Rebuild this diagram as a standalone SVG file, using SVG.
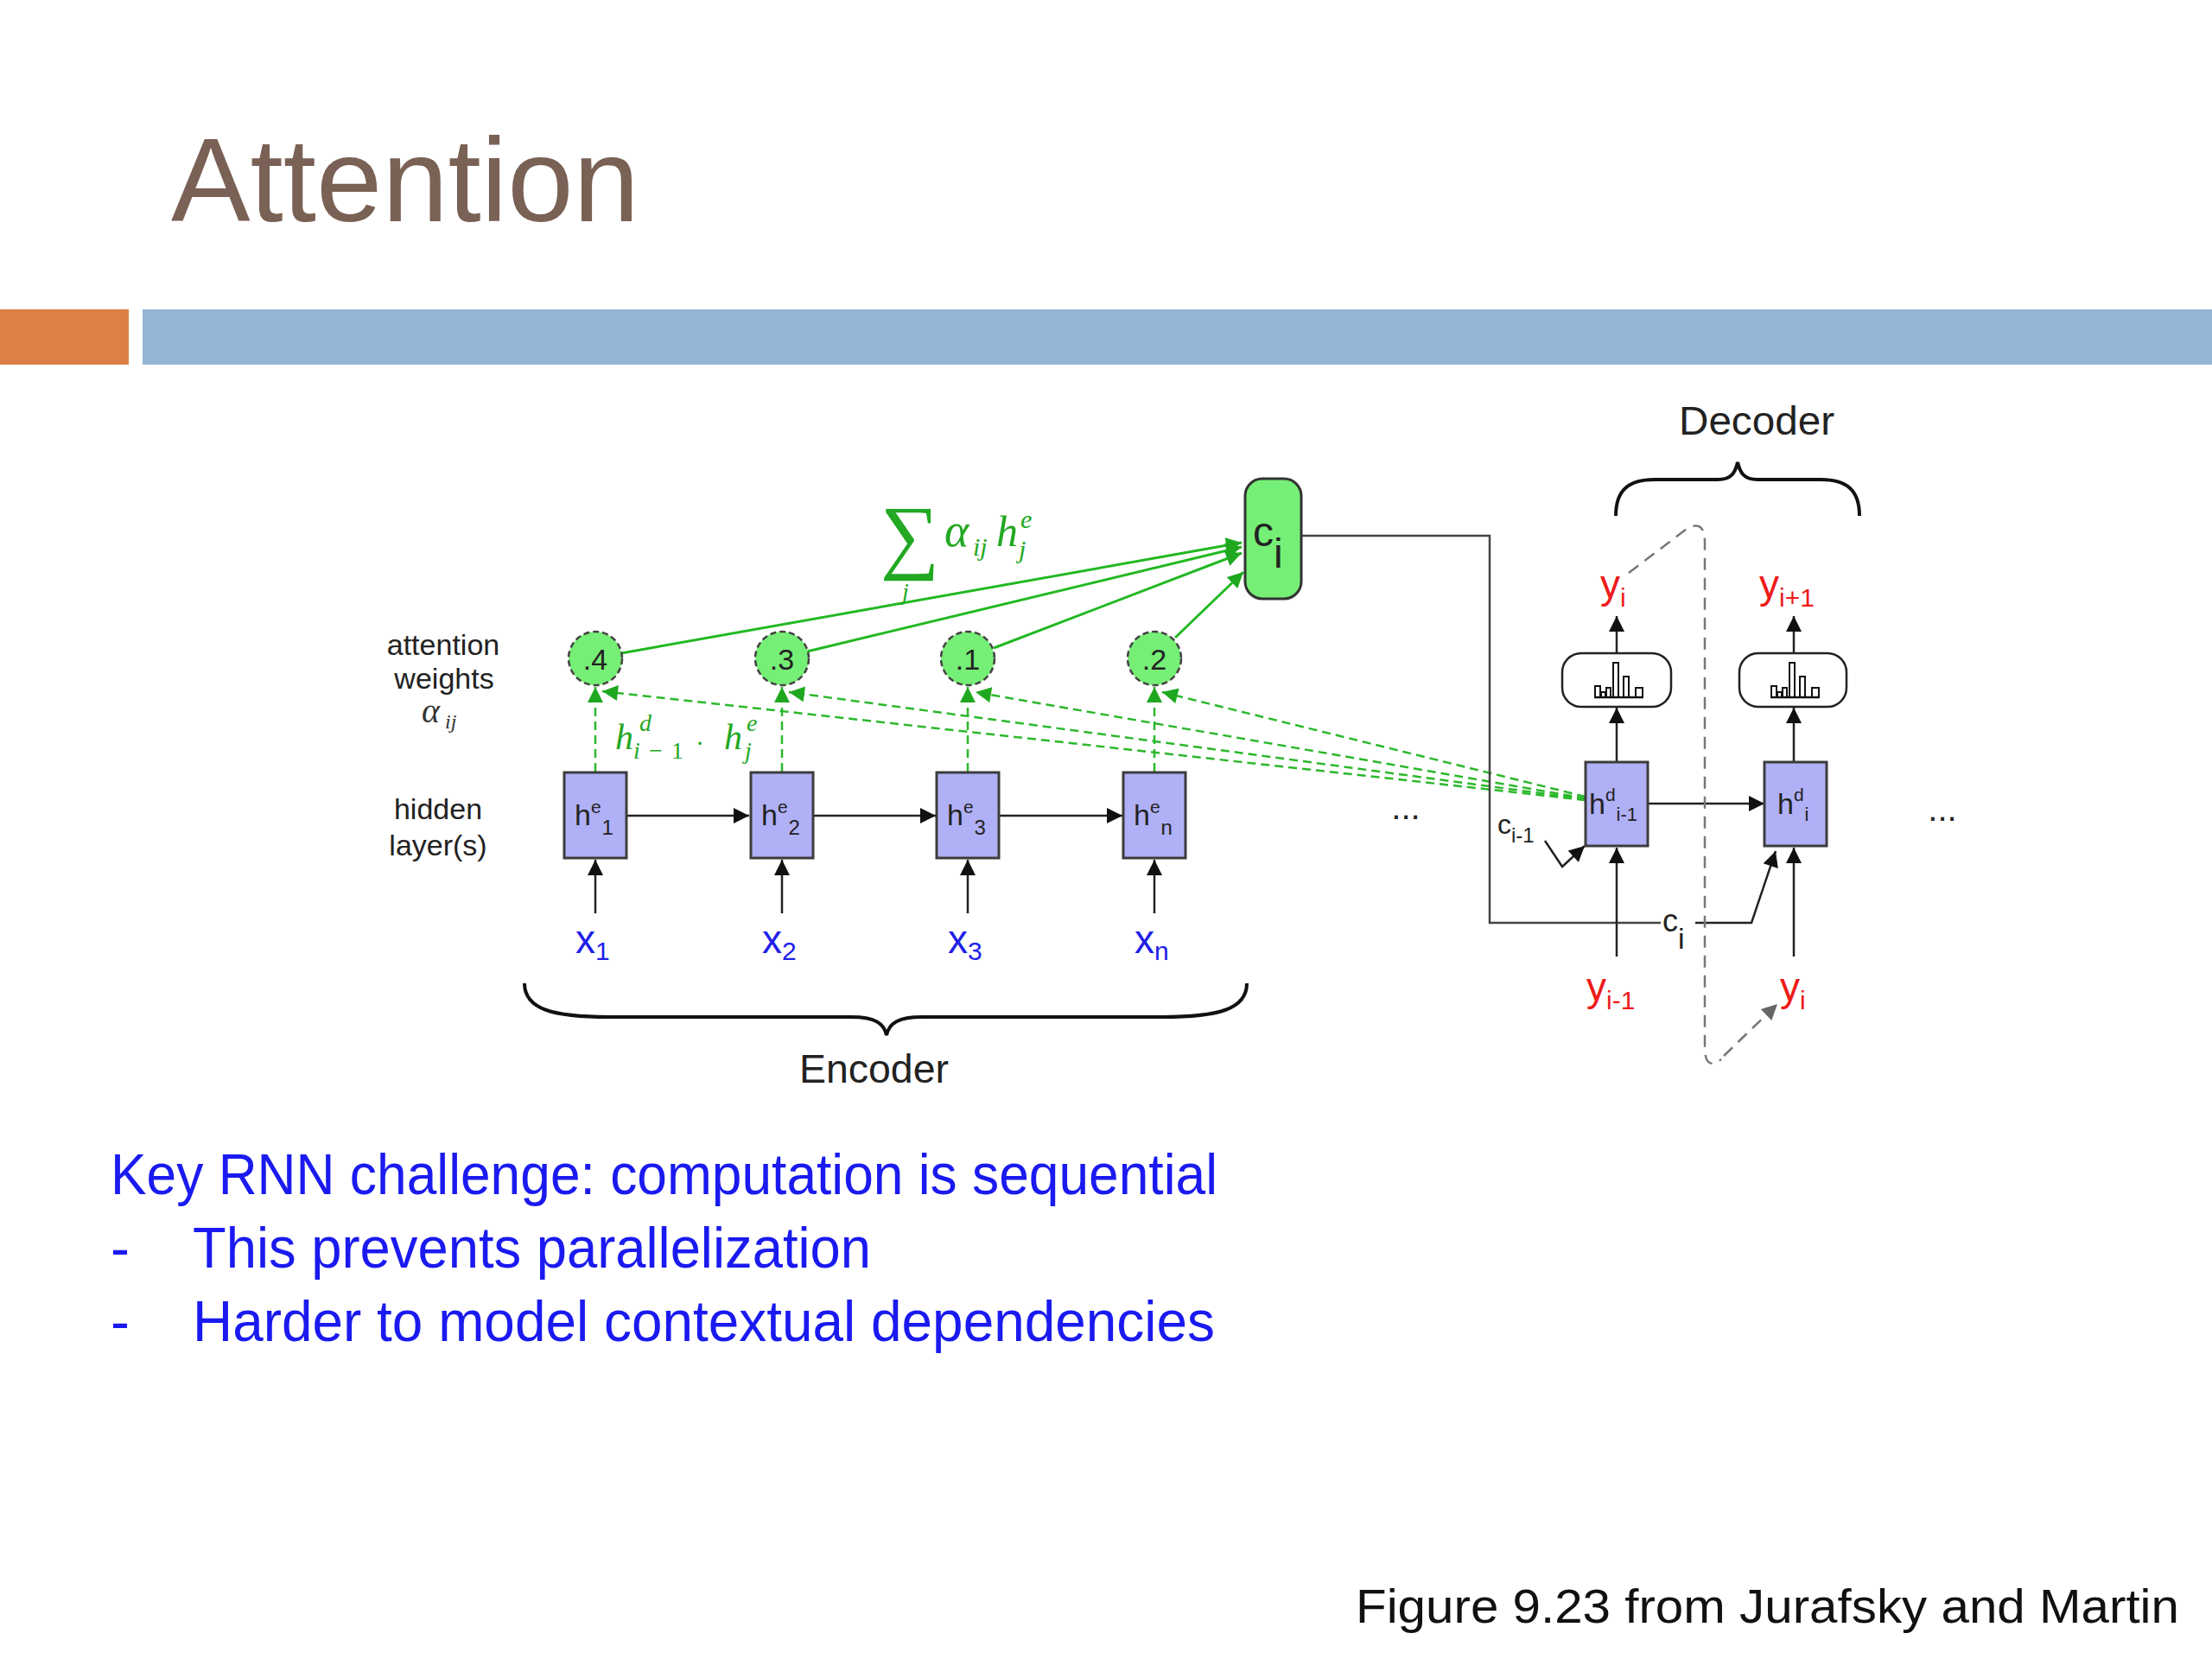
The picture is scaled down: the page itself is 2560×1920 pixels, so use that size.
<svg xmlns="http://www.w3.org/2000/svg" width="2560" height="1920" viewBox="0 0 2560 1920">
<style>
.lbl{font-family:"Liberation Sans",Arial,sans-serif;fill:#222}
.slide{font-family:"Liberation Sans",Arial,sans-serif}
.mi{font-family:"Liberation Serif","DejaVu Serif",serif;font-style:italic}
.grn{fill:#22a822}
.box{fill:#b0b0f6;stroke:#3c3c3c;stroke-width:3}
.circ{fill:#76ef76;stroke:#444;stroke-width:2.5;stroke-dasharray:7 4}
.blk{stroke:#222;stroke-width:2.5;fill:none}
.gl{stroke:#22b822;stroke-width:3;fill:none}
.gd{stroke:#2cb82c;stroke-width:2.5;fill:none;stroke-dasharray:10 6}
.gray{stroke:#777;stroke-width:2.5;fill:none;stroke-dasharray:14 9}
.bar{fill:#fff;stroke:#111;stroke-width:2}
</style>
<defs>
<marker id="ab" viewBox="0 0 10 10" refX="10" refY="5" markerWidth="22" markerHeight="18" markerUnits="userSpaceOnUse" orient="auto"><path d="M0,0 L10,5 L0,10 z" fill="#111"/></marker>
<marker id="ag" viewBox="0 0 10 10" refX="10" refY="5" markerWidth="22" markerHeight="18" markerUnits="userSpaceOnUse" orient="auto"><path d="M0,0 L10,5 L0,10 z" fill="#1fa81f"/></marker>
<marker id="agr" viewBox="0 0 10 10" refX="10" refY="5" markerWidth="22" markerHeight="18" markerUnits="userSpaceOnUse" orient="auto"><path d="M0,0 L10,5 L0,10 z" fill="#666"/></marker>
<g id="hist">
<rect class="bar" x="-25" y="-13" width="6" height="13"/>
<rect class="bar" x="-18" y="-6" width="5" height="6"/>
<rect class="bar" x="-12" y="-11" width="5" height="11"/>
<rect class="bar" x="-4" y="-40" width="6" height="40"/>
<rect class="bar" x="8" y="-24" width="6" height="24"/>
<rect class="bar" x="22" y="-11" width="8" height="11"/>
<line x1="-26" y1="0" x2="31" y2="0" stroke="#111" stroke-width="2.5"/>
</g>
</defs>
<rect width="2560" height="1920" fill="#fff"/>

<g id="header">
<text class="slide" x="198" y="256" font-size="138" fill="#7a6155" textLength="542" lengthAdjust="spacingAndGlyphs">Attention</text>
<rect x="0" y="358" width="149" height="64" fill="#dd8047"/>
<rect x="165" y="358" width="2395" height="64" fill="#94b5d3"/>
</g>

<g id="connectors">
<line class="blk" x1="725" y1="944" x2="867" y2="944" marker-end="url(#ab)"/>
<line class="blk" x1="941" y1="944" x2="1083" y2="944" marker-end="url(#ab)"/>
<line class="blk" x1="1156" y1="944" x2="1299" y2="944" marker-end="url(#ab)"/>
<line class="blk" x1="689" y1="1057" x2="689" y2="995" marker-end="url(#ab)"/>
<line class="blk" x1="905" y1="1057" x2="905" y2="995" marker-end="url(#ab)"/>
<line class="blk" x1="1120" y1="1057" x2="1120" y2="995" marker-end="url(#ab)"/>
<line class="blk" x1="1336" y1="1057" x2="1336" y2="995" marker-end="url(#ab)"/>
<line class="gd" x1="689" y1="893" x2="689" y2="795" marker-end="url(#ag)"/>
<line class="gd" x1="905" y1="893" x2="905" y2="795" marker-end="url(#ag)"/>
<line class="gd" x1="1120" y1="893" x2="1120" y2="795" marker-end="url(#ag)"/>
<line class="gd" x1="1336" y1="893" x2="1336" y2="795" marker-end="url(#ag)"/>
<line class="gd" x1="1835" y1="926" x2="697" y2="800" marker-end="url(#ag)"/>
<line class="gd" x1="1835" y1="925" x2="913" y2="801" marker-end="url(#ag)"/>
<line class="gd" x1="1835" y1="924" x2="1129" y2="801" marker-end="url(#ag)"/>
<line class="gd" x1="1835" y1="922" x2="1345" y2="801" marker-end="url(#ag)"/>
<line class="gl" x1="719" y1="756" x2="1437" y2="628" marker-end="url(#ag)"/>
<line class="gl" x1="934" y1="754" x2="1437" y2="633" marker-end="url(#ag)"/>
<line class="gl" x1="1150" y1="750" x2="1437" y2="640" marker-end="url(#ag)"/>
<line class="gl" x1="1360" y1="738" x2="1439" y2="662" marker-end="url(#ag)"/>
<path d="M1506 620 L1724 620 L1724 1068 L1922 1068" stroke="#444" stroke-width="2.5" fill="none"/>
<path d="M1962 1068 L2027 1068 L2055 985" class="blk" marker-end="url(#ab)"/>
<path d="M1788 973 L1808 1003 L1834 979" class="blk" marker-end="url(#ab)"/>
<line class="blk" x1="1907" y1="930" x2="2042" y2="930" marker-end="url(#ab)"/>
<line class="blk" x1="1871" y1="1107" x2="1871" y2="981" marker-end="url(#ab)"/>
<line class="blk" x1="2076" y1="1107" x2="2076" y2="981" marker-end="url(#ab)"/>
<line class="blk" x1="1871" y1="882" x2="1871" y2="819" marker-end="url(#ab)"/>
<line class="blk" x1="2076" y1="882" x2="2076" y2="819" marker-end="url(#ab)"/>
<line class="blk" x1="1871" y1="755" x2="1871" y2="713" marker-end="url(#ab)"/>
<line class="blk" x1="2076" y1="755" x2="2076" y2="713" marker-end="url(#ab)"/>
<path class="gray" d="M1885 663 L1952 612 Q1973 600 1973 628 L1973 1212 Q1973 1240 1992 1226"/>
<line class="gray" x1="1995" y1="1222" x2="2057" y2="1162" marker-end="url(#agr)"/>
</g>

<g id="encoder-boxes">
<g id="he1"><rect class="box" x="653" y="894" width="72" height="99"/><text class="lbl" x="665" y="955" font-size="34">h<tspan font-size="21" dy="-14">e</tspan><tspan font-size="24" dy="25" dx="1">1</tspan></text></g>
<g id="he2"><rect class="box" x="869" y="894" width="72" height="99"/><text class="lbl" x="881" y="955" font-size="34">h<tspan font-size="21" dy="-14">e</tspan><tspan font-size="24" dy="25" dx="1">2</tspan></text></g>
<g id="he3"><rect class="box" x="1084" y="894" width="72" height="99"/><text class="lbl" x="1096" y="955" font-size="34">h<tspan font-size="21" dy="-14">e</tspan><tspan font-size="24" dy="25" dx="1">3</tspan></text></g>
<g id="hen"><rect class="box" x="1300" y="894" width="72" height="99"/><text class="lbl" x="1312" y="955" font-size="34">h<tspan font-size="21" dy="-14">e</tspan><tspan font-size="24" dy="25" dx="1">n</tspan></text></g>
</g>

<g id="weights">
<g id="w1"><circle class="circ" cx="689" cy="762" r="31"/><text class="lbl" x="689" y="775" font-size="34" text-anchor="middle">.4</text></g>
<g id="w2"><circle class="circ" cx="905" cy="762" r="31"/><text class="lbl" x="905" y="775" font-size="34" text-anchor="middle">.3</text></g>
<g id="w3"><circle class="circ" cx="1120" cy="762" r="31"/><text class="lbl" x="1120" y="775" font-size="34" text-anchor="middle">.1</text></g>
<g id="w4"><circle class="circ" cx="1336" cy="762" r="31"/><text class="lbl" x="1336" y="775" font-size="34" text-anchor="middle">.2</text></g>
</g>

<g id="ci"><rect x="1441" y="554" width="65" height="139" rx="20" fill="#76ef76" stroke="#333" stroke-width="3"/><text class="lbl" x="1450" y="632" font-size="48" fill="#111">c<tspan dy="25" font-size="48">i</tspan></text></g>

<g id="sum-label" class="grn">
<text x="1019" y="652" font-size="96" font-family="Liberation Serif,serif">∑</text>
<text class="mi" x="1044" y="694" font-size="28">j</text>
<text class="mi" x="1093" y="632" font-size="54">α</text>
<text class="mi" x="1126" y="643" font-size="30">ij</text>
<text class="mi" x="1153" y="632" font-size="50">h</text>
<text class="mi" x="1181" y="611" font-size="30">e</text>
<text class="mi" x="1179" y="646" font-size="30">j</text>
</g>

<g id="dot-label" class="grn">
<text class="mi" x="712" y="867" font-size="42">h</text>
<text class="mi" x="740" y="846" font-size="28">d</text>
<text class="mi" x="733" y="878" font-size="28" textLength="58" lengthAdjust="spacing">i<tspan font-style="normal">−1</tspan></text>
<text x="805" y="870" font-size="30" font-family="Liberation Serif,serif">·</text>
<text class="mi" x="838" y="867" font-size="42">h</text>
<text class="mi" x="864" y="846" font-size="28">e</text>
<text class="mi" x="862" y="878" font-size="28">j</text>
</g>

<g id="side-labels">
<text class="lbl" x="513" y="758" font-size="34" text-anchor="middle">attention</text>
<text class="lbl" x="514" y="797" font-size="34" text-anchor="middle">weights</text>
<text class="mi" x="488" y="836" font-size="40" fill="#333">α</text>
<text class="mi" x="515" y="843" font-size="24" fill="#333">ij</text>
<text class="lbl" x="507" y="948" font-size="34" text-anchor="middle">hidden</text>
<text class="lbl" x="507" y="990" font-size="34" text-anchor="middle">layer(s)</text>
</g>

<g id="inputs">
<text class="lbl" x="666" y="1103" font-size="46" style="fill:#2020e8">x<tspan font-size="30" dy="8">1</tspan></text>
<text class="lbl" x="882" y="1103" font-size="46" style="fill:#2020e8">x<tspan font-size="30" dy="8">2</tspan></text>
<text class="lbl" x="1097" y="1103" font-size="46" style="fill:#2020e8">x<tspan font-size="30" dy="8">3</tspan></text>
<text class="lbl" x="1313" y="1103" font-size="46" style="fill:#2020e8">x<tspan font-size="30" dy="8">n</tspan></text>
</g>

<g id="encoder-brace">
<path d="M607 1138 C607 1168 640 1177 705 1177 L985 1177 C1012 1177 1023 1184 1026 1198 C1029 1184 1040 1177 1067 1177 L1345 1177 C1410 1177 1443 1168 1443 1138" fill="none" stroke="#111" stroke-width="4"/>
<text class="slide" x="925" y="1253" font-size="46" fill="#222" textLength="173" lengthAdjust="spacingAndGlyphs">Encoder</text>
</g>

<g id="decoder-brace">
<path d="M1870 597 C1870 567 1885 555 1915 555 L1988 555 C2003 555 2008 548 2011 535 C2014 548 2019 555 2034 555 L2107 555 C2137 555 2152 567 2152 597" fill="none" stroke="#111" stroke-width="4"/>
<text class="slide" x="1943" y="503" font-size="46" fill="#222" textLength="180" lengthAdjust="spacingAndGlyphs">Decoder</text>
</g>

<g id="decoder-boxes">
<g id="hd1"><rect class="box" x="1835" y="882" width="72" height="97"/><text class="lbl" x="1839" y="942" font-size="34">h<tspan font-size="21" dy="-15">d</tspan><tspan font-size="22" dy="23" dx="1">i-1</tspan></text></g>
<g id="hd2"><rect class="box" x="2042" y="882" width="72" height="97"/><text class="lbl" x="2057" y="942" font-size="34">h<tspan font-size="21" dy="-15">d</tspan><tspan font-size="22" dy="23" dx="1">i</tspan></text></g>
<g id="sm1"><rect x="1808" y="756" width="126" height="62" rx="22" fill="#fff" stroke="#222" stroke-width="2.5"/><use href="#hist" x="1871" y="807"/></g>
<g id="sm2"><rect x="2013" y="756" width="124" height="62" rx="22" fill="#fff" stroke="#222" stroke-width="2.5"/><use href="#hist" x="2075" y="807"/></g>
</g>

<g id="decoder-labels">
<text class="lbl" x="1852" y="692" font-size="46" style="fill:#ee1a1a">y<tspan font-size="30" dy="10">i</tspan></text>
<text class="lbl" x="2036" y="692" font-size="46" style="fill:#ee1a1a">y<tspan font-size="30" dy="10">i+1</tspan></text>
<text class="lbl" x="1836" y="1158" font-size="46" style="fill:#ee1a1a">y<tspan font-size="30" dy="10">i-1</tspan></text>
<text class="lbl" x="2060" y="1158" font-size="46" style="fill:#ee1a1a">y<tspan font-size="30" dy="10">i</tspan></text>
<text class="lbl" x="1733" y="965" font-size="32">c<tspan font-size="24" dy="10">i-1</tspan></text>
<text class="lbl" x="1924" y="1078" font-size="36">c<tspan font-size="34" dy="20">i</tspan></text>
<text class="lbl" x="1627" y="948" font-size="40" text-anchor="middle">...</text>
<text class="lbl" x="2248" y="950" font-size="40" text-anchor="middle">...</text>
</g>

<g id="bullets" class="slide" fill="#1a1af0">
<text x="128" y="1382" font-size="66" textLength="1281" lengthAdjust="spacingAndGlyphs">Key RNN challenge: computation is sequential</text>
<text x="128" y="1467" font-size="66">-</text>
<text x="223" y="1467" font-size="66" textLength="785" lengthAdjust="spacingAndGlyphs">This prevents parallelization</text>
<text x="128" y="1552" font-size="66">-</text>
<text x="223" y="1552" font-size="66" textLength="1183" lengthAdjust="spacingAndGlyphs">Harder to model contextual dependencies</text>
</g>

<g id="footer">
<text class="slide" x="1569" y="1878" font-size="56" fill="#111" textLength="953" lengthAdjust="spacingAndGlyphs">Figure 9.23 from Jurafsky and Martin</text>
</g>
</svg>
